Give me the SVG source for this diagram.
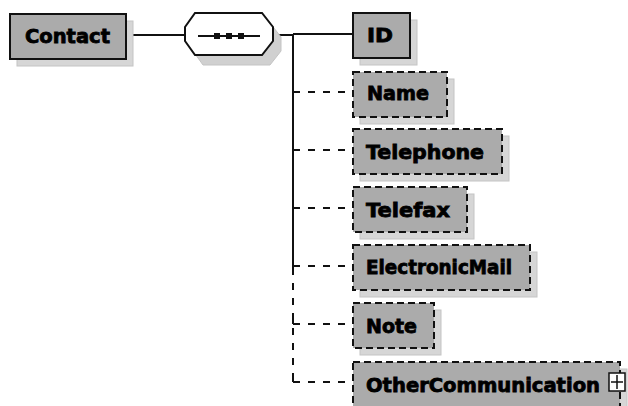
<svg xmlns="http://www.w3.org/2000/svg" width="628" height="406" viewBox="0 0 628 406">
<style>
.shadow{fill:#d6d6d6;stroke:#c4c4c4;stroke-width:1}
.box{fill:#ababab;stroke:#111;stroke-width:2}
.opt{stroke-dasharray:7,4}
.lbl{font-family:"DejaVu Sans",Verdana,sans-serif;font-weight:bold;font-size:19px;fill:#000;stroke:#000;stroke-width:0.8}
.wire{stroke:#111;stroke-width:2;fill:none}
.dash{stroke-dasharray:7,8}
</style>
<rect width="628" height="406" fill="#fff"/>
<g id="connectors">
<line class="wire" x1="126" y1="35" x2="185" y2="35"/>
<line class="wire" x1="273" y1="35" x2="293" y2="35"/>
<line class="wire" x1="293" y1="34" x2="353" y2="34"/>
<line class="wire" x1="293" y1="34" x2="293" y2="268"/>
<line class="wire dash" x1="293" y1="268" x2="293" y2="382"/>
<line class="wire dash" x1="293" y1="92" x2="353" y2="92"/>
<line class="wire dash" x1="293" y1="150" x2="353" y2="150"/>
<line class="wire dash" x1="293" y1="208" x2="353" y2="208"/>
<line class="wire dash" x1="293" y1="266" x2="353" y2="266"/>
<line class="wire" x1="293" y1="316" x2="293" y2="324"/>
<line class="wire dash" x1="293" y1="324" x2="353" y2="324"/>
<line class="wire" x1="293" y1="376" x2="293" y2="382"/>
<line class="wire dash" x1="293" y1="382" x2="353" y2="382"/>
</g>
<g id="contact">
<rect class="shadow" x="17" y="21" width="116" height="45"/>
<rect class="box" x="10" y="14" width="116" height="45"/>
<text class="lbl" x="25" y="43" textLength="85" lengthAdjust="spacingAndGlyphs">Contact</text>
</g>
<g id="sequence">
<polygon points="203,23 270,23 281,37 281,51 270,65 203,65 193,51 193,37" fill="#d0d0d0" stroke="#c4c4c4"/>
<polygon points="195,13 262,13 273,27 273,41 262,55 195,55 185,41 185,27" fill="#fff" stroke="#111" stroke-width="2"/>
<line x1="198" y1="36" x2="260" y2="36" stroke="#111" stroke-width="2"/>
<rect x="214" y="33" width="6" height="6" fill="#111"/>
<rect x="226" y="33" width="6" height="6" fill="#111"/>
<rect x="238" y="33" width="6" height="6" fill="#111"/>
</g>
<g id="id">
<rect class="shadow" x="360" y="20" width="57" height="45"/>
<rect class="box" x="353" y="13" width="57" height="45"/>
<text class="lbl" x="367" y="42" textLength="26" lengthAdjust="spacingAndGlyphs">ID</text>
</g>
<g id="name">
<rect class="shadow" x="360" y="79" width="94" height="45"/>
<rect class="box opt" x="353" y="72" width="94" height="45"/>
<text class="lbl" x="367" y="100" textLength="62" lengthAdjust="spacingAndGlyphs">Name</text>
</g>
<g id="telephone">
<rect class="shadow" x="360" y="136" width="149" height="45"/>
<rect class="box opt" x="353" y="129" width="149" height="45"/>
<text class="lbl" x="366" y="159" textLength="118" lengthAdjust="spacingAndGlyphs">Telephone</text>
</g>
<g id="telefax">
<rect class="shadow" x="360" y="194" width="114" height="45"/>
<rect class="box opt" x="353" y="187" width="114" height="45"/>
<text class="lbl" x="366" y="217" textLength="84" lengthAdjust="spacingAndGlyphs">Telefax</text>
</g>
<g id="electronicmail">
<rect class="shadow" x="360" y="252" width="177" height="45"/>
<rect class="box opt" x="353" y="245" width="177" height="45"/>
<text class="lbl" x="366" y="274" textLength="146" lengthAdjust="spacingAndGlyphs">ElectronicMail</text>
</g>
<g id="note">
<rect class="shadow" x="360" y="310" width="81" height="45"/>
<rect class="box opt" x="353" y="303" width="81" height="45"/>
<text class="lbl" x="366" y="333" textLength="51" lengthAdjust="spacingAndGlyphs">Note</text>
</g>
<g id="othercommunication">
<rect class="shadow" x="360" y="369" width="267" height="45"/>
<rect class="box opt" x="353" y="362" width="267" height="45"/>
<text class="lbl" x="366" y="392" textLength="234" lengthAdjust="spacingAndGlyphs">OtherCommunication</text>
<rect x="609" y="373" width="16" height="18" fill="#fff" stroke="#111" stroke-width="1.5"/>
<line x1="611" y1="382" x2="623" y2="382" stroke="#111" stroke-width="1.5"/>
<line x1="617" y1="375" x2="617" y2="389" stroke="#111" stroke-width="1.5"/>
</g>
</svg>
